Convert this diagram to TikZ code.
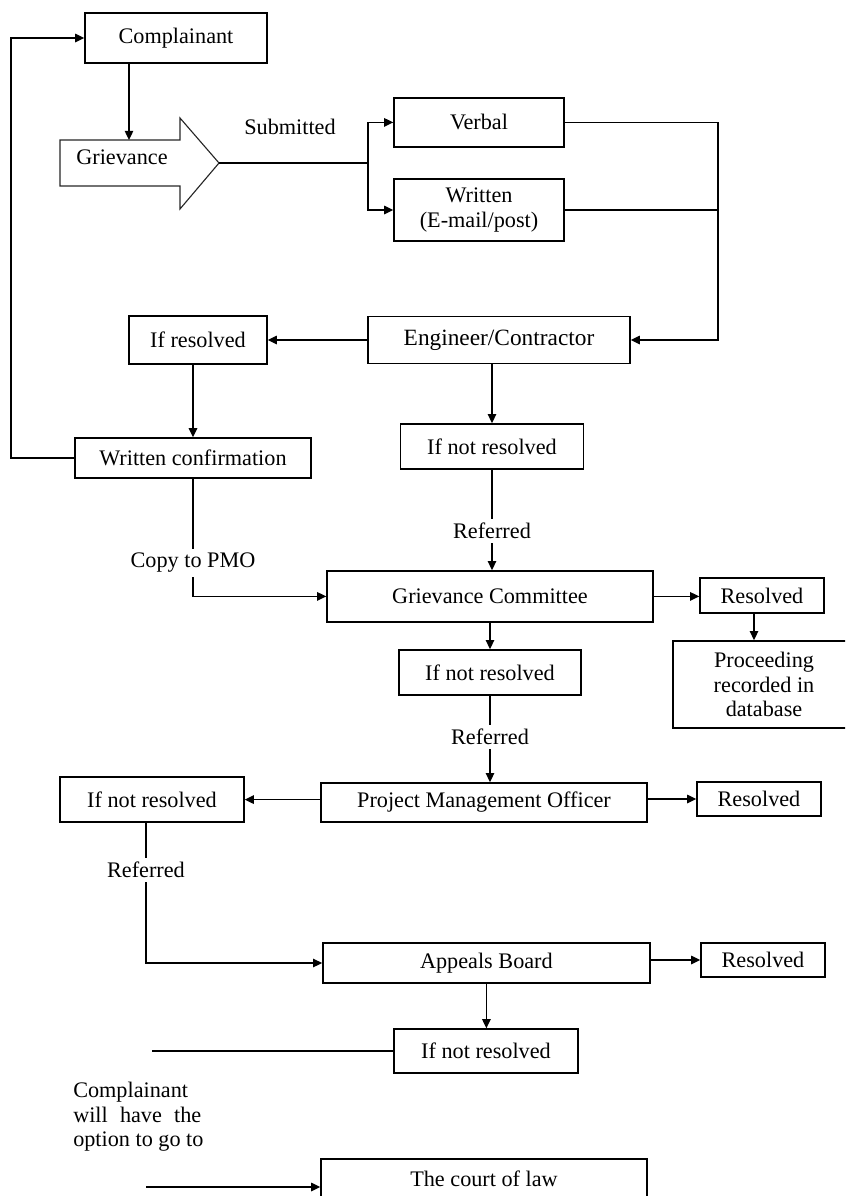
\documentclass[tikz,border=0pt]{standalone}
\usepackage{fontspec}
\setmainfont{Liberation Serif}
\usetikzlibrary{arrows.meta}
\newcommand{\fsz}{\fontsize{15.8}{17.5}\selectfont}

\begin{document}
\begin{tikzpicture}[
    box/.style={draw,line width=1pt,inner sep=0pt,align=center,font=\fsz},
    tag/.style={inner sep=3pt,align=center,font=\fsz},
    link/.style={line width=1pt},
    arrow/.style={link,-{Triangle[length=6.5pt,width=6pt]}}
  ]
    \useasboundingbox (0,0) rectangle (21.125,-29.9);
    \clip (0,0) rectangle (21.125,-29.9);

    % top: complainant and grievance
    \node[box,minimum width=4.55cm,minimum height=1.25cm] (comp) at (4.4,-0.95) {Complainant};
    \draw[line width=0.8pt,draw=black!85] (1.5,-3.5) -- (4.5,-3.5) -- (4.5,-2.95)
      -- (5.475,-4.075) -- (4.5,-5.225) -- (4.5,-4.65) -- (1.5,-4.65) -- cycle;
    \node[tag] (griev) at (3.05,-3.925) {Grievance};
    \coordinate (grievtop) at (3.225,-3.5);
    \coordinate (grievtip) at (5.475,-4.075);
    \coordinate (split) at (9.2,-4.075);
    \node[tag] (submit) at (7.25,-3.175) {Submitted};

    \node[box,minimum width=4.25cm,minimum height=1.225cm] (verbal) at (11.975,-3.06) {Verbal};
    \node[box,minimum width=4.25cm,minimum height=1.55cm] (written) at (11.975,-5.25)
      {Written\\(E-mail/post)};
    \coordinate (rightbus) at (17.95,0);

    % engineer level
    \node[box,minimum width=6.55cm,minimum height=1.175cm,font=\fontsize{16.6}{18}\selectfont]
      (eng) at (12.475,-8.5) {Engineer/Contractor};
    \node[box,minimum width=3.45cm,minimum height=1.2cm] (ifres) at (4.95,-8.5) {If resolved};
    \node[box,minimum width=5.9cm,minimum height=1cm] (wconf) at (4.825,-11.45) {Written confirmation};
    \coordinate (loopx) at (0.275,0);
    \node[tag] (copy) at (4.825,-14.075) {Copy to PMO};
    \node[box,minimum width=4.575cm,minimum height=1.125cm] (inr1) at (12.3,-11.16) {If not resolved};
    \node[tag] (ref1) at (12.3,-13.275) {Referred};

    % grievance committee
    \node[box,minimum width=8.15cm,minimum height=1.275cm] (gc) at (12.25,-14.91) {Grievance Committee};
    \node[box,minimum width=3.1cm,minimum height=0.875cm] (res1) at (19.05,-14.89) {Resolved};
    \node[box,minimum width=4.55cm,minimum height=2.175cm] (proc) at (19.1,-17.11)
      {Proceeding\\recorded in\\database};
    \node[box,minimum width=4.55cm,minimum height=1.125cm] (inr2) at (12.25,-16.81) {If not resolved};
    \node[tag] (ref2) at (12.25,-18.425) {Referred};

    % project management officer
    \node[box,minimum width=8.15cm,minimum height=0.975cm] (pmo) at (12.1,-20.06) {Project Management Officer};
    \node[box,minimum width=4.6cm,minimum height=1.125cm] (inr3) at (3.8,-19.99) {If not resolved};
    \node[box,minimum width=3.1cm,minimum height=0.85cm] (res2) at (18.975,-19.975) {Resolved};
    \node[tag] (ref3) at (3.65,-21.75) {Referred};

    % appeals board
    \node[box,minimum width=8.175cm,minimum height=1cm] (ab) at (12.16,-24.075) {Appeals Board};
    \node[box,minimum width=3.1cm,minimum height=0.85cm] (res3) at (19.075,-24.0) {Resolved};
    \node[box,minimum width=4.6cm,minimum height=1.1cm] (inr4) at (12.15,-26.275) {If not resolved};
    \coordinate (optend) at (3.8,-26.275);
    \node[font=\fsz,align=left,inner sep=0pt,anchor=west] (option) at (1.825,-27.925)
      {Complainant\\\makebox[3.2cm][s]{will have the}\\option to go to};
    \coordinate (courtin) at (3.65,-29.675);
    \node[box,minimum width=8.15cm,minimum height=1cm] (court) at (12.1,-29.475) {The court of law};

    % connectors
    \draw[arrow] (comp.south -| grievtop) -- (grievtop);
    \draw[link] (grievtip) -- (split);
    \draw[arrow] (split) |- (verbal.west);
    \draw[arrow] (split) |- (written.west);
    \draw[arrow] (verbal.east) -- (verbal.east -| rightbus) |- (eng.east);
    \draw[link] (written.east) -- (written.east -| rightbus);
    \draw[arrow] (eng.west) -- (ifres.east);
    \draw[arrow] (ifres.south -| wconf.north) -- (wconf.north);
    \draw[arrow] (wconf.west) -- (wconf.west -| loopx) |- (comp.west);
    \draw[link] (wconf.south) -- (wconf.south |- copy.north);
    \draw[arrow] (copy.south) |- (gc.west);
    \draw[arrow] (eng.south -| inr1.north) -- (inr1.north);
    \draw[link] (inr1.south) -- (ref1.north);
    \draw[arrow] (ref1.south) -- (ref1.south |- gc.north);
    \draw[arrow] (gc.east) -- (gc.east -| res1.west);
    \draw[arrow] ([xshift=-0.2cm]res1.south) -- ([xshift=-0.2cm]res1.south |- proc.north);
    \draw[arrow] (gc.south) -- (inr2.north);
    \draw[link] (inr2.south) -- (ref2.north);
    \draw[arrow] (ref2.south) -- (ref2.south |- pmo.north);
    \draw[arrow] (pmo.west |- inr3.east) -- (inr3.east);
    \draw[arrow] (pmo.east |- res2.west) -- (res2.west);
    \draw[link] (inr3.south -| ref3.north) -- (ref3.north);
    \draw[arrow] (ref3.south) |- (ab.west);
    \draw[arrow] (ab.east |- res3.west) -- (res3.west);
    \draw[arrow] (ab.south) -- (ab.south |- inr4.north);
    \draw[link] (inr4.west) -- (optend);
    \draw[arrow] (courtin) -- (courtin -| court.west);
\end{tikzpicture}
\end{document}
